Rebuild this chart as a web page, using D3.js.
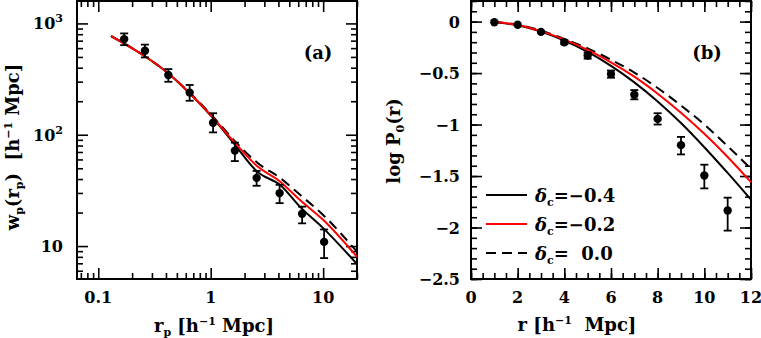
<!DOCTYPE html>
<html>
<head>
<meta charset="utf-8">
<script src="https://cdn.jsdelivr.net/npm/d3@7/dist/d3.min.js"></script>
<style>
  body { margin: 0; background: #fff; }
  svg { display: block; }
  text { font-family: "DejaVu Serif", serif; font-weight: bold; fill: #000; }
</style>
</head>
<body>
<div class="chart"></div>
<script>
// ---- panel (a): projected correlation function ----
var rpData = [0.17, 0.26, 0.42, 0.65, 1.05, 1.64, 2.56, 4.1, 6.5, 10.2];
var wpData = [723, 568, 344, 239, 128, 72, 41, 29.9, 19.5, 10.9];
var wpLo   = [638, 495, 299, 202, 105, 58, 34.8, 24.3, 16, 7.8];
var wpHi   = [813, 645, 389, 280, 156, 85, 47.3, 35.5, 22.6, 14.1];

var rpModel  = [0.13, 0.25, 0.4, 0.65, 1.05, 1.6, 2.6, 4.2, 6.2, 10, 20];
var wpBlack  = [770, 520, 370, 236, 141, 84, 46.5, 35, 22.6, 14.5, 6.9];
var wpRed    = [770, 520, 370, 236, 142, 87, 52, 37.5, 26, 17.2, 8.0];
var wpDashed = [770, 520, 370, 238, 145, 90, 56, 40.5, 29, 19, 8.9];

// ---- panel (b): void probability ----
var rData  = [1, 2, 3, 4, 5, 6, 7, 8, 9, 10, 11];
var p0Data = [-0.006, -0.03, -0.10, -0.20, -0.33, -0.51, -0.71, -0.945, -1.20, -1.495, -1.835];
var p0Lo   = [-0.006, -0.03, -0.11, -0.22, -0.36, -0.545, -0.755, -1.0, -1.29, -1.62, -2.03];
var p0Hi   = [-0.006, -0.03, -0.09, -0.18, -0.30, -0.475, -0.665, -0.89, -1.12, -1.39, -1.71];

var rModel    = [1, 2, 3, 4, 5, 6, 7, 8, 9, 10, 11, 12];
var p0Black   = [-0.005, -0.035, -0.097, -0.185, -0.295, -0.43, -0.59, -0.775, -0.985, -1.22, -1.47, -1.73];
var p0Red     = [-0.005, -0.033, -0.093, -0.175, -0.275, -0.395, -0.535, -0.70, -0.885, -1.09, -1.315, -1.56];
var p0Dashed  = [-0.005, -0.03, -0.088, -0.168, -0.26, -0.37, -0.495, -0.645, -0.815, -1.0, -1.21, -1.43];

var legendLabels = ["=\u22120.4", "=\u22120.2", "=  0.0"];

var W = 761, H = 338;
var svg = d3.select(".chart").append("svg")
    .attr("width", W)
    .attr("height", H);

// helper: four framed sides with inward ticks
function frame(g, x, y, xMajor, xMinor, yMajor, yMinor, w, h){
    var sides = [
        [d3.axisBottom, x, xMajor, xMinor, "translate(0," + h + ")"],
        [d3.axisTop, x, xMajor, xMinor, "translate(0,0)"],
        [d3.axisLeft, y, yMajor, yMinor, "translate(0,0)"],
        [d3.axisRight, y, yMajor, yMinor, "translate(" + w + ",0)"]
    ];
    sides.forEach(function(s){
        var major = g.append("g").attr("transform", s[4])
            .call(s[0](s[1]).tickValues(s[2]).tickSize(-11).tickSizeOuter(0).tickFormat(""));
        var minor = g.append("g").attr("transform", s[4])
            .call(s[0](s[1]).tickValues(s[3]).tickSize(-6).tickSizeOuter(0).tickFormat(""));
        [major, minor].forEach(function(a){
            a.select(".domain").remove();
            a.selectAll("line").attr("stroke", "#000").attr("stroke-width", 1.6);
        });
    });
    g.append("rect")
        .attr("width", w).attr("height", h)
        .attr("fill", "none").attr("stroke", "#000").attr("stroke-width", 2);
}

function errorBars(g, xs, ys, lo, hi, x, y){
    xs.forEach(function(d, i){
        var px = x(d);
        if (y(lo[i]) - y(hi[i]) > 3) {
            g.append("line").attr("x1", px).attr("x2", px)
                .attr("y1", y(lo[i])).attr("y2", y(hi[i]))
                .attr("stroke", "#000").attr("stroke-width", 1.8);
            [lo[i], hi[i]].forEach(function(v){
                g.append("line").attr("x1", px - 4).attr("x2", px + 4)
                    .attr("y1", y(v)).attr("y2", y(v))
                    .attr("stroke", "#000").attr("stroke-width", 1.8);
            });
        }
        g.append("circle").attr("cx", px).attr("cy", y(ys[i])).attr("r", 4.2).attr("fill", "#000");
    });
}

function curve(g, xs, ys, x, y, color, dash){
    var line = d3.line()
        .x(function(d){ return x(d[0]); })
        .y(function(d){ return y(d[1]); })
        .curve(d3.curveMonotoneX);
    g.append("path")
        .datum(xs.map(function(d, i){ return [d, ys[i]]; }))
        .attr("d", line)
        .attr("fill", "none")
        .attr("stroke", color)
        .attr("stroke-width", 2)
        .attr("stroke-dasharray", dash ? "10,6" : null);
}

function unitLabel(t, main, sub){
    t.append("tspan").text(main);
    if (sub) t.append("tspan").attr("font-size", "11px").attr("dy", 4).text(sub);
    t.append("tspan").attr("dy", sub ? -4 : 0).text("\u00a0[h");
    t.append("tspan").attr("font-size", "11px").attr("dy", -7).text("\u22121");
    t.append("tspan").attr("dy", 7).text("\u00a0Mpc]");
}

// ================= panel (a) =================
var ma = { left: 77, top: 1, w: 280, h: 278 };
var ga = svg.append("g").attr("transform", "translate(" + ma.left + "," + ma.top + ")");

var xa = d3.scaleLog().domain([0.0647, 20]).range([0, ma.w]);
var ya = d3.scaleLog().domain([5.06, 1590]).range([ma.h, 0]);

var xaMinor = [], yaMinor = [];
[0.01, 0.1, 1, 10].forEach(function(dec){
    for (var k = 2; k <= 9; k++) {
        var v = dec * k;
        if (v >= 0.0647 && v <= 20) xaMinor.push(v);
    }
});
[1, 10, 100, 1000].forEach(function(dec){
    for (var k = 2; k <= 9; k++) {
        var v = dec * k;
        if (v >= 5.06 && v <= 1590) yaMinor.push(v);
    }
});
frame(ga, xa, ya, [0.1, 1, 10], xaMinor, [10, 100, 1000], yaMinor, ma.w, ma.h);

curve(ga, rpModel, wpDashed, xa, ya, "#000", true);
curve(ga, rpModel, wpBlack, xa, ya, "#000", false);
curve(ga, rpModel, wpRed, xa, ya, "#ff0000", false);
errorBars(ga, rpData, wpData, wpLo, wpHi, xa, ya);

// tick labels
[0.1, 1, 10].forEach(function(v){
    ga.append("text").attr("x", xa(v)).attr("y", 302)
        .attr("text-anchor", "middle").attr("font-size", "16px").text(v);
});
[[10, ""], [100, "2"], [1000, "3"]].forEach(function(v){
    var t = ga.append("text").attr("x", -14).attr("y", ya(v[0]) + 6)
        .attr("text-anchor", "end").attr("font-size", "16px");
    t.append("tspan").text("10");
    if (v[1]) t.append("tspan").attr("font-size", "11px").attr("dy", -7).text(v[1]);
});

ga.append("text").attr("x", 241).attr("y", 58)
    .attr("text-anchor", "middle").attr("font-size", "18px").text("(a)");

var xta = svg.append("text").attr("x", 214).attr("y", 332)
    .attr("text-anchor", "middle").attr("font-size", "18px");
unitLabel(xta, "r", "p");

var yta = svg.append("text").attr("transform", "translate(19,147) rotate(-90)")
    .attr("text-anchor", "middle").attr("font-size", "18px");
yta.append("tspan").text("w");
yta.append("tspan").attr("font-size", "11px").attr("dy", 4).text("p");
yta.append("tspan").attr("dy", -4).text("(r");
yta.append("tspan").attr("font-size", "11px").attr("dy", 4).text("p");
yta.append("tspan").attr("dy", -4).text(")\u00a0\u00a0[h");
yta.append("tspan").attr("font-size", "11px").attr("dy", -7).text("\u22121");
yta.append("tspan").attr("dy", 7).text("\u00a0Mpc]");

// ================= panel (b) =================
var mb = { left: 471, top: 1, w: 280, h: 278 };
var gb = svg.append("g").attr("transform", "translate(" + mb.left + "," + mb.top + ")");

var xb = d3.scaleLinear().domain([0, 12]).range([0, mb.w]);
var yb = d3.scaleLinear().domain([-2.5, 0.2]).range([mb.h, 0]);

frame(gb, xb, yb,
    d3.range(0, 12.01, 2), d3.range(0, 12.01, 0.5),
    d3.range(-2.5, 0.21, 0.5), d3.range(-2.5, 0.21, 0.1), mb.w, mb.h);

curve(gb, rModel, p0Dashed, xb, yb, "#000", true);
curve(gb, rModel, p0Black, xb, yb, "#000", false);
curve(gb, rModel, p0Red, xb, yb, "#ff0000", false);
errorBars(gb, rData, p0Data, p0Lo, p0Hi, xb, yb);

d3.range(0, 12.01, 2).forEach(function(v){
    gb.append("text").attr("x", xb(v)).attr("y", 302)
        .attr("text-anchor", "middle").attr("font-size", "16px").text(v);
});
d3.range(-2.5, 0.01, 0.5).forEach(function(v){
    gb.append("text").attr("x", -11).attr("y", yb(v) + 6)
        .attr("text-anchor", "end").attr("font-size", "16px")
        .text(v === 0 ? "0" : "\u2212" + Math.abs(Math.round(v * 10) / 10));
});

gb.append("text").attr("x", 236).attr("y", 58)
    .attr("text-anchor", "middle").attr("font-size", "18px").text("(b)");

// legend
var legColors = ["#000", "#ff0000", "#000"];
legendLabels.forEach(function(lab, i){
    var ly = 194 + i * 29;
    gb.append("line").attr("x1", 15).attr("x2", 56)
        .attr("y1", ly).attr("y2", ly)
        .attr("stroke", legColors[i]).attr("stroke-width", 2)
        .attr("stroke-dasharray", i === 2 ? "10,6" : null);
    var t = gb.append("text").attr("x", 64).attr("y", ly + 7).attr("font-size", "18px")
        .attr("xml:space", "preserve");
    t.append("tspan").attr("font-style", "italic").text("\u03b4");
    t.append("tspan").attr("font-size", "11px").attr("dy", 4).text("c");
    t.append("tspan").attr("dy", -4).text(lab);
});

var xtb = svg.append("text").attr("x", 577).attr("y", 331)
    .attr("text-anchor", "middle").attr("font-size", "18px");
xtb.append("tspan").text("r\u00a0[h");
xtb.append("tspan").attr("font-size", "11px").attr("dy", -7).text("\u22121");
xtb.append("tspan").attr("dy", 7).text("\u00a0\u00a0Mpc]");

var ytb = svg.append("text").attr("transform", "translate(400,141) rotate(-90)")
    .attr("text-anchor", "middle").attr("font-size", "18px");
ytb.append("tspan").text("log\u00a0P");
ytb.append("tspan").attr("font-size", "11px").attr("dy", 4).text("0");
ytb.append("tspan").attr("dy", -4).text("(r)");
</script>
</body>
</html>
